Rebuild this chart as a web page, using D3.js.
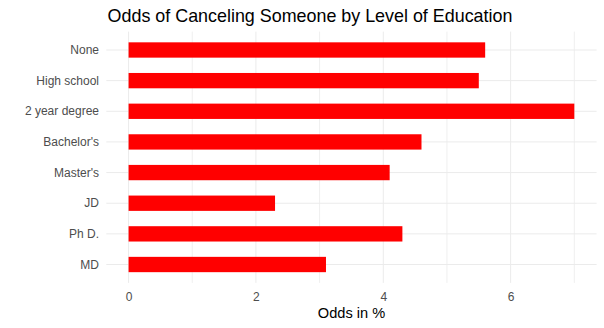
<!DOCTYPE html>
<html>
<head>
<meta charset="utf-8">
<script src="https://cdn.jsdelivr.net/npm/d3@7"></script>
<style>
  html, body { margin: 0; padding: 0; background: #fff; }
  svg { display: block; }
  text { font-family: Arial, "Liberation Sans", sans-serif; }
</style>
</head>
<body>
<svg id="chart" width="604" height="328"></svg>
<script>
const categories = ["None", "High school", "2 year degree", "Bachelor's", "Master's", "JD", "Ph D.", "MD"];
const odds = [5.6, 5.5, 7.0, 4.6, 4.1, 2.3, 4.3, 3.1];
const xTicks = [0, 2, 4, 6];
const xMinor = [1, 3, 5, 7];
const title = "Odds of Canceling Someone by Level of Education";
const xTitle = "Odds in %";

const data = categories.map((c, i) => ({ cat: categories[i], val: odds[i] }));

const svg = d3.select("#chart");
const panel = { left: 106.3, right: 596.6, top: 31.6, bottom: 282.9 };

const x = d3.scaleLinear().domain([-0.35, 7.35]).range([panel.left, panel.right]);
const y = d3.scaleBand().domain(categories).range([panel.top, panel.bottom])
  .paddingInner(0.5).paddingOuter(0.35);

// gridlines
const g = svg.append("g");
g.selectAll("line.vminor").data(xMinor).join("line")
  .attr("x1", d => x(d)).attr("x2", d => x(d))
  .attr("y1", panel.top).attr("y2", panel.bottom)
  .attr("stroke", "#EFEFEF").attr("stroke-width", 1);
g.selectAll("line.vmajor").data(xTicks).join("line")
  .attr("x1", d => x(d)).attr("x2", d => x(d))
  .attr("y1", panel.top).attr("y2", panel.bottom)
  .attr("stroke", "#EBEBEB").attr("stroke-width", 1);
g.selectAll("line.h").data(categories).join("line")
  .attr("x1", panel.left).attr("x2", panel.right)
  .attr("y1", d => y(d) + y.bandwidth() / 2).attr("y2", d => y(d) + y.bandwidth() / 2)
  .attr("stroke", "#EBEBEB").attr("stroke-width", 1);

// bars
svg.append("g").selectAll("rect").data(data).join("rect")
  .attr("x", x(0))
  .attr("y", d => y(d.cat))
  .attr("width", d => x(d.val) - x(0))
  .attr("height", y.bandwidth())
  .attr("fill", "#FF0000");

// x axis
const xAxis = d3.axisBottom(x).tickValues(xTicks).tickSize(0).tickPadding(0).tickFormat(d3.format("d"));
const xa = svg.append("g").attr("transform", `translate(0,${panel.bottom})`).call(xAxis);
xa.select(".domain").remove();
xa.selectAll("text").attr("dy", null).attr("y", 18.2)
  .attr("fill", "#4D4D4D").style("font-size", "12px").style("font-family", "Arial, 'Liberation Sans', sans-serif");

// y axis
const yAxis = d3.axisLeft(y).tickSize(0).tickPadding(7.3);
const ya = svg.append("g").attr("transform", `translate(${panel.left},0)`).call(yAxis);
ya.select(".domain").remove();
ya.selectAll("text").attr("dy", "0.35em")
  .attr("fill", "#4D4D4D").style("font-size", "12px").style("font-family", "Arial, 'Liberation Sans', sans-serif");

// titles
svg.append("text").attr("x", 310).attr("y", 22).attr("text-anchor", "middle")
  .attr("fill", "#000").style("font-size", "17.9px").text(title);
svg.append("text").attr("x", 351.5).attr("y", 318).attr("text-anchor", "middle")
  .attr("fill", "#000").style("font-size", "14.6px").text(xTitle);
</script>
</body>
</html>
